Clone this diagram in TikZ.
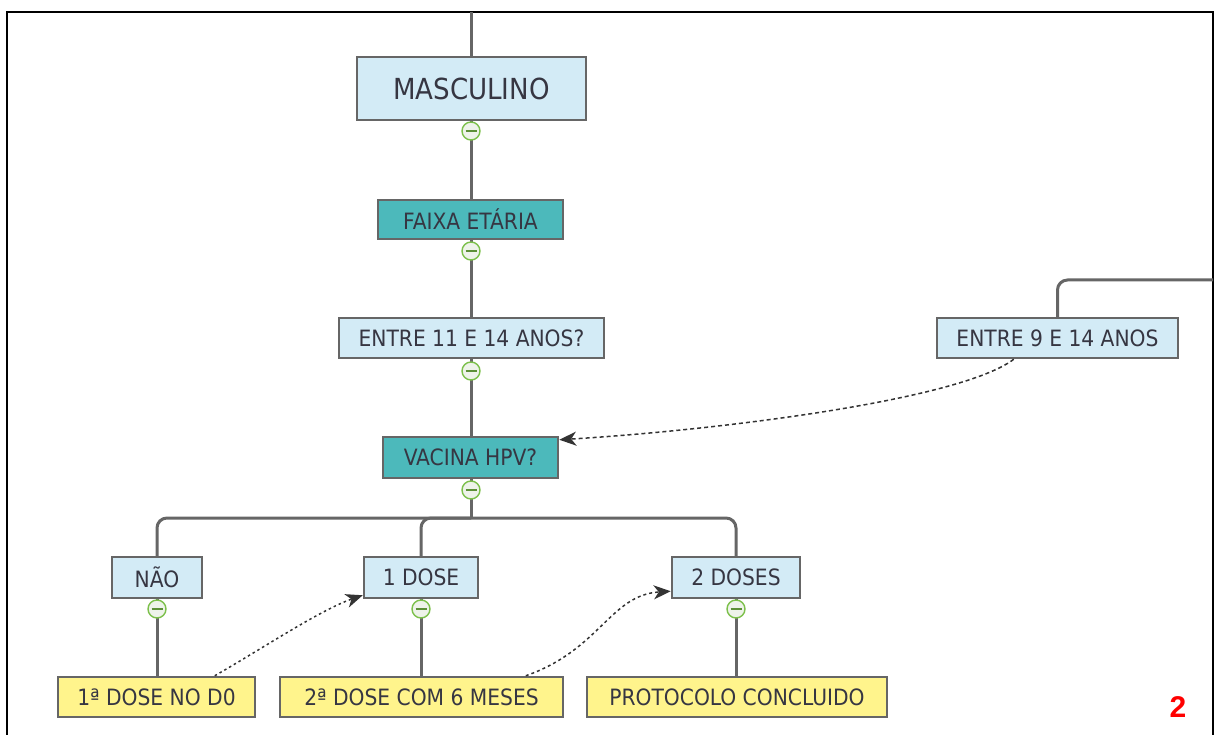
\documentclass[tikz,border=0pt]{standalone}
\usepackage{fontspec}
\setmainfont{DejaVu Sans Condensed}
\newfontfamily\numfont{Liberation Sans}
\usetikzlibrary{arrows.meta,calc}

\definecolor{boxline}{HTML}{666666}
\definecolor{lbluefill}{HTML}{D3EBF6}
\definecolor{tealfill}{HTML}{4CB9BB}
\definecolor{yellowfill}{HTML}{FFF48C}
\definecolor{txtcol}{HTML}{363642}
\definecolor{ringcol}{HTML}{7CC04B}
\definecolor{ringfill}{HTML}{EEF3EA}

\tikzset{
  basebox/.style={draw=boxline, line width=2.5pt, text=txtcol, inner sep=0pt,
    font=\fontsize{22.5}{24}\selectfont, minimum height=40pt},
  qbox/.style={basebox, fill=lbluefill},
  tbox/.style={basebox, fill=tealfill},
  ybox/.style={basebox, fill=yellowfill},
  link/.style={draw=boxline, line width=3pt},
  rlink/.style={link, rounded corners=10pt},
  collapse/.style={circle, draw=ringcol, line width=1.4pt, fill=ringfill,
    minimum size=18pt, inner sep=0pt,
    path picture={\draw[ringcol!75!black, line width=1.7pt]
      ([xshift=-5.5pt]path picture bounding box.center) --
      ([xshift=5.5pt]path picture bounding box.center);}},
  crosstip/.tip={Stealth[length=17pt,width=14pt,inset=5pt]},
  cross/.style={draw=black!80, line width=1.5pt, -crosstip},
}

\begin{document}
\begin{tikzpicture}[x=1pt, y=-1pt]
  \useasboundingbox (0,0) rectangle (1219,735);

  % outer frame
  \draw[line width=2.5pt] (7,735) -- (7,12) -- (1213,12) -- (1213,735);

  % tree connectors (drawn first, boxes go on top)
  \coordinate (top) at (471,12);
  \coordinate (split) at (471,518);
  \coordinate (offright) at (1213,280);
  \coordinate (naotop) at (157,557);
  \coordinate (d1top) at (421,557);
  \coordinate (d2top) at (736,557);
  \coordinate (e9top) at (1057.5,318);

  \draw[link] (top) -- (471,200);
  \draw[link] (471,230) -- (471,440);
  \draw[link] (471,470) -- (split);
  \draw[rlink] (split) -| (naotop);
  \draw[rlink] (split) -| (d1top);
  \draw[rlink] (split) -| (d2top);
  \draw[link] (157,590) -- (157,680);
  \draw[link] (421,590) -- (421,680);
  \draw[link] (736,590) -- (736,680);
  \draw[rlink] (e9top) |- (offright);

  % boxes
  \node[qbox, minimum width=229pt, minimum height=63pt,
        font=\fontsize{29}{31}\selectfont] (masc) at (471.5,88.5) {MASCULINO};
  \node[tbox, minimum width=185pt, minimum height=39pt] (faixa) at (470.5,219.5) {FAIXA ETÁRIA};
  \node[qbox, minimum width=265pt] (e11) at (471.5,338) {ENTRE 11 E 14 ANOS?};
  \node[tbox, minimum width=175pt, minimum height=41pt] (hpv) at (470.5,457.5) {VACINA HPV?};
  \node[qbox, minimum width=241pt] (e9) at (1057.5,338) {ENTRE 9 E 14 ANOS};

  \node[qbox, minimum width=90pt, minimum height=41pt] (nao) at (157,577.5) {NÃO};
  \node[qbox, minimum width=114pt, minimum height=41pt] (d1) at (421,577.5) {1 DOSE};
  \node[qbox, minimum width=128pt, minimum height=41pt] (d2) at (736,577.5) {2 DOSES};

  \node[ybox, minimum width=197pt] (y1) at (156.5,697) {1ª DOSE NO D0};
  \node[ybox, minimum width=283pt] (y2) at (421.5,697) {2ª DOSE COM 6 MESES};
  \node[ybox, minimum width=300pt] (y3) at (737,697) {PROTOCOLO CONCLUIDO};

  % collapse markers
  \node[collapse] (c1) at (471,131) {};
  \node[collapse] (c2) at (471,251) {};
  \node[collapse] (c3) at (471,371) {};
  \node[collapse] (c4) at (471,490) {};
  \node[collapse] (c5) at (157,609) {};
  \node[collapse] (c6) at (421,609) {};
  \node[collapse] (c7) at (736,609) {};

  % cross links
  \coordinate (s1) at ($(e9.south west)+(78,0)$);
  \coordinate (t1) at ([yshift=-4pt]hpv.north east);
  \draw[cross, dash pattern=on 4pt off 3pt]
    (s1) .. controls (960,400) and (720,430) .. (t1);

  \coordinate (s2) at ($(y1.north west)+(158,0)$);
  \coordinate (t2) at ([yshift=4pt]d1.south west);
  \draw[cross, dash pattern=on 2.5pt off 3pt]
    (s2) .. controls (260,650) and (320,610) .. (t2);

  \coordinate (s3) at ($(y2.north west)+(247,0)$);
  \coordinate (t3) at ([yshift=8pt]d2.south west);
  \draw[cross, dash pattern=on 3pt off 3pt]
    (s3) .. controls (600,650) and (610,595) .. (t3);

  % page number
  \node[text=red, font=\numfont\bfseries\fontsize{30}{32}\selectfont] (pg) at (1178,707) {2};
\end{tikzpicture}
\end{document}
